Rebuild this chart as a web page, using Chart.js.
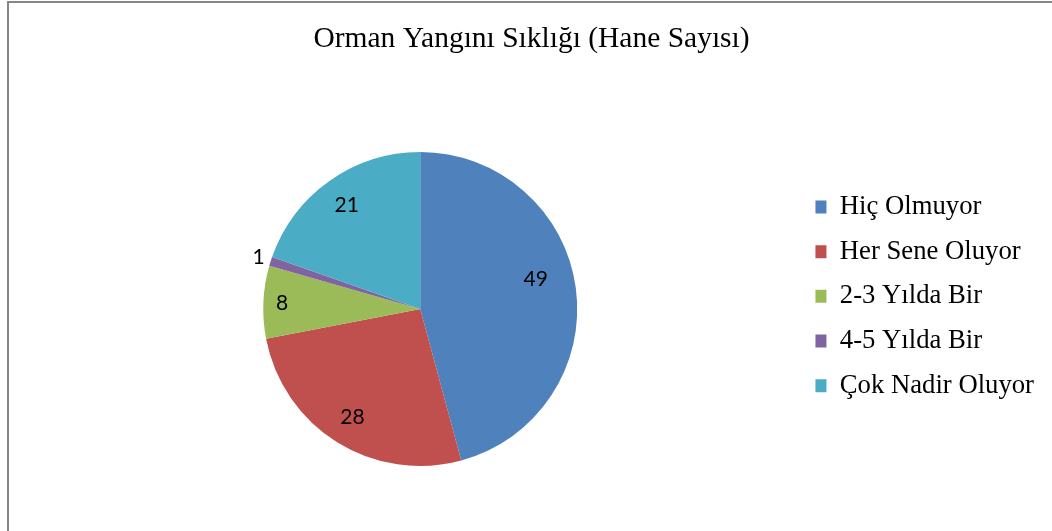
<!DOCTYPE html>
<html>
<head>
<meta charset="utf-8">
<script src="https://cdn.jsdelivr.net/npm/chart.js@4.4.1/dist/chart.umd.min.js"></script>
<style>
  html, body { margin: 0; padding: 0; background: #fff; }
  #wrap { position: relative; width: 1052px; height: 531px; overflow: hidden; }
  #frame {
    position: absolute; left: 7px; top: 1px; width: 1200px; height: 700px;
    border-left: 2px solid #868686; border-top: 2px solid #868686;
    pointer-events: none;
  }
</style>
</head>
<body>
<div id="wrap">
  <canvas id="chart" width="1052" height="531"></canvas>
  <div id="frame"></div>
</div>
<script>
// data
const categories = ["Hiç Olmuyor", "Her Sene Oluyor", "2-3 Yılda Bir", "4-5 Yılda Bir", "Çok Nadir Oluyor"];
const households = [49, 28, 8, 1, 21];
const sliceColors = ["#4F81BD", "#C0504D", "#9BBB59", "#8064A2", "#4BACC6"];

// label placement (Excel "best fit" look): share of radius + small angle nudge in degrees
const labelRadius = [0.76, 0.815, 0.88, 1.08, 0.81];
const labelNudge = [-7, 0, 0, 0, 0];

const serif = "'Liberation Serif', 'Times New Roman', serif";

// draws the numbers on / next to each slice
const sliceLabels = {
  id: "sliceLabels",
  afterDatasetsDraw(chart) {
    const { ctx } = chart;
    const meta = chart.getDatasetMeta(0);
    ctx.save();
    ctx.font = "21px Lato, 'Open Sans', sans-serif";
    ctx.fillStyle = "#000";
    ctx.textAlign = "center";
    ctx.textBaseline = "middle";
    meta.data.forEach((arc, i) => {
      const { x, y, startAngle, endAngle, outerRadius } = arc.getProps(
        ["x", "y", "startAngle", "endAngle", "outerRadius"], true);
      const mid = (startAngle + endAngle) / 2 + (labelNudge[i] || 0) * Math.PI / 180;
      const r = outerRadius * (labelRadius[i] ?? 0.75);
      ctx.fillText(String(households[i]), x + Math.cos(mid) * r, y + Math.sin(mid) * r);
    });
    ctx.restore();
  },
};

new Chart(document.getElementById("chart"), {
  type: "pie",
  data: {
    labels: categories,
    datasets: [{
      data: households,
      backgroundColor: sliceColors,
      borderWidth: 0,
    }],
  },
  options: {
    responsive: false,
    animation: false,
    radius: 157,
    layout: { padding: { left: 19, right: 8, top: 0, bottom: 0 } },
    plugins: {
      tooltip: { enabled: false },
      title: {
        display: true,
        text: "Orman Yangını Sıklığı (Hane Sayısı)",
        color: "#000",
        font: { family: serif, size: 29.5, weight: "normal", lineHeight: 1.2 },
        padding: { top: 21.8, bottom: 29.8 },
      },
      // empty left box, only a spacer so the pie sits left of centre like the original
      subtitle: {
        display: true,
        position: "left",
        text: "",
        font: { size: 10, lineHeight: 1.2 },
        padding: { top: 12, bottom: 0 },
      },
      legend: {
        position: "right",
        align: "start",
        // empty title only used as a spacer to push the items down
        title: { display: true, text: "", padding: { top: 163.6, bottom: 0 }, font: { size: 10, lineHeight: 1.2 } },
        labels: {
          color: "#000",
          boxWidth: 11,
          boxHeight: 13,
          padding: 18,
          font: { family: serif, size: 26.7 },
        },
      },
    },
  },
  plugins: [sliceLabels],
});
</script>
</body>
</html>
